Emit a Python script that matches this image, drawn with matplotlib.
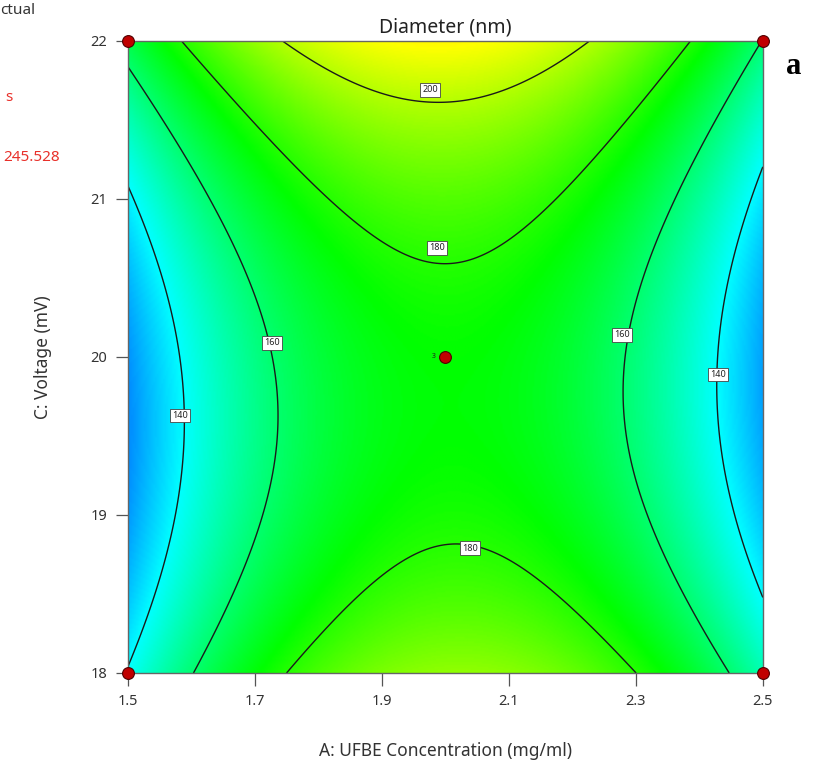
import numpy as np
import matplotlib
matplotlib.use("Agg")
import matplotlib.pyplot as plt
from matplotlib.colors import LinearSegmentedColormap

# factor ranges (actual units)
a_range = [1.5, 2.5]          # A: UFBE Concentration (mg/ml)
c_range = [18.0, 22.0]        # C: Voltage (mV)
x_ticks = [1.5, 1.7, 1.9, 2.1, 2.3, 2.5]
y_ticks = [18, 19, 20, 21, 22]

# quadratic model in coded units
# terms: intercept, A, C, AC, A^2, C^2
model_terms = ["b0", "A", "C", "AC", "A2", "C2"]
model_coefs = [175.1, 1.0, 8.35, -3.9, -48.9, 27.95]

contour_levels = [140, 160, 180, 200]
# where the contour labels sit (A, C)
label_spots = [(1.976, 21.69), (1.987, 20.69), (2.039, 18.79),
               (1.727, 20.09), (1.582, 19.63), (2.278, 20.14), (2.429, 19.89)]

# design points
design_A = [1.5, 1.5, 2.5, 2.5, 2.0]
design_C = [18, 22, 18, 22, 20]
center_reps = 3

# colour scale of the response
resp_min, resp_max = 104.5, 245.528


def predict(A, C, coefs):
    a = (A - 2.0) / 0.5
    c = (C - 20.0) / 2.0
    b0, bA, bC, bAC, bAA, bCC = coefs
    return b0 + bA * a + bC * c + bAC * a * c + bAA * a ** 2 + bCC * c ** 2


gx = np.linspace(a_range[0], a_range[1], 400)
gy = np.linspace(c_range[0], c_range[1], 400)
GX, GY = np.meshgrid(gx, gy)
Z = predict(GX, GY, model_coefs)

cmap = LinearSegmentedColormap.from_list(
    "de", ["#0000ff", "#00ffff", "#00ff00", "#ffff00", "#ff0000"])

plt.rcParams['font.family'] = ['Noto Sans', 'DejaVu Sans']

fig = plt.figure(figsize=(8.17, 7.70), dpi=100)
ax = fig.add_axes([0.1567, 0.126, 0.777, 0.8208])

ax.imshow(Z, extent=[a_range[0], a_range[1], c_range[0], c_range[1]],
          origin='lower', aspect='auto', cmap=cmap, vmin=resp_min, vmax=resp_max,
          interpolation='bilinear')
cs = ax.contour(GX, GY, Z, levels=contour_levels, colors='#1a1a1a', linewidths=1.0)
labels = ax.clabel(cs, inline=False, fmt='%d', fontsize=6.5, manual=label_spots)
# put the boxes where the reference has them, horizontal
for t in labels:
    x, y = t.get_position()
    spot = min(label_spots, key=lambda p: (p[0] - x) ** 2 + ((p[1] - y) / 4) ** 2)
    t.set_position(spot)
    t.set_rotation(0)
    t.set_color('#222222')
    t.set_bbox(dict(boxstyle='square,pad=0.25', fc='white', ec='#444444', lw=0.6))

ax.plot(design_A, design_C, 'o', ms=8.5, mfc='#c00000', mec='#500000', mew=0.8,
        clip_on=False, zorder=5)
ax.text(1.985, 20.0, str(center_reps), fontsize=5, ha='right', va='center', color='#222222')

ax.set_xlim(a_range)
ax.set_ylim(c_range)
ax.set_xticks(x_ticks)
ax.set_xticklabels(["%.1f" % v for v in x_ticks])
ax.set_yticks(y_ticks)
ax.tick_params(direction='out', length=9, width=0.9, color='#555555',
               labelcolor='#333333', labelsize=10.5, pad=6)
for s in ax.spines.values():
    s.set_color('#666666')
    s.set_linewidth(1.0)

ax.set_title("Diameter (nm)", fontsize=14, color='#222222', pad=6)
ax.set_xlabel("A: UFBE Concentration (mg/ml)", fontsize=12.5, color='#333333', labelpad=24)
ax.set_ylabel("C: Voltage (mV)", fontsize=12.5, color='#333333', labelpad=28)

# panel letter and cut-off legend text
fig.text(0.972, 0.913, "a", fontsize=22, fontweight='bold', family='Liberation Serif',
         ha='center', va='center')
fig.text(0.0, 0.987, "ctual", fontsize=11, color='#333333', ha='left', va='center')
fig.text(0.006, 0.873, "s", fontsize=11, color='#e8302a', ha='left', va='center')
fig.text(0.004, 0.796, "245.528", fontsize=11, color='#e8302a', ha='left', va='center')

fig.savefig("out.png", dpi=100)
